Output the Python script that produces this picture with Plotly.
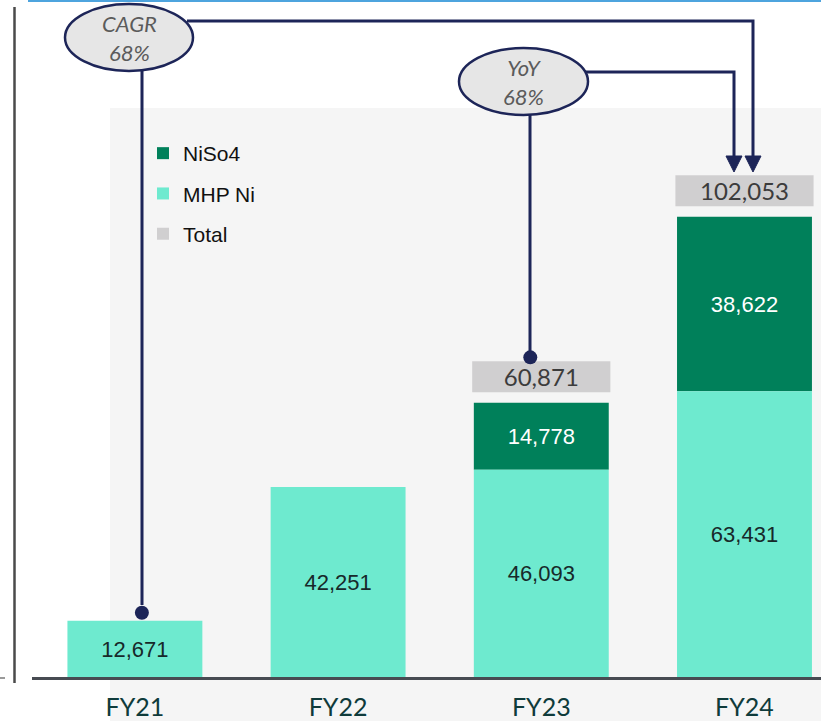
import plotly.graph_objects as go

# ---------------- data ----------------
categories = ["FY21", "FY22", "FY23", "FY24"]
mhp_ni = [12671, 42251, 46093, 63431]
niso4 = [0, 0, 14778, 38622]
totals = [12671, 42251, 60871, 102053]
cagr_text = "CAGR<br>68%"
yoy_text = "YoY<br>68%"

# ---------------- geometry helpers ----------------
W, H = 821, 721
L, T, B = 15, 0, 43
PW, PH = W - L, H - T - B
YMAX = 150000
XSTEP = 203.2
XMIN = -0.59
XMAX = XMIN + PW / XSTEP
xs = list(range(len(categories)))


def px_to_units(p):
    return p / PH * YMAX


def pxx(px):
    return (px - L) / PW


def pxy(py):
    return (T + PH - py) / PH


NAVY = "#1d2558"
TEAL_DARK = "#00805a"
TEAL_LIGHT = "#6eeacf"
GREY_BOX = "#d0cfd0"

box_gap = px_to_units(10.5)
box_h = px_to_units(31)
show_total = [n > 0 for n in niso4]

fig = go.Figure()

fig.add_trace(go.Bar(
    name="NiSo4", x=xs,
    y=[v if v > 0 else None for v in niso4],
    base=mhp_ni,
    width=0.664,
    marker=dict(color=TEAL_DARK, line=dict(width=0)),
    text=[f"{v:,}" if v > 0 else "" for v in niso4],
    textposition="inside", insidetextanchor="middle", constraintext="none",
    textfont=dict(family="Liberation Sans, Arial", size=22, color="white"),
    hoverinfo="skip", legendgroup="a",
))
fig.add_trace(go.Bar(
    name="MHP Ni", x=xs, y=mhp_ni,
    width=0.664,
    marker=dict(color=TEAL_LIGHT, line=dict(width=0)),
    text=[f"{v:,}" for v in mhp_ni],
    textposition="inside", insidetextanchor="middle", constraintext="none",
    textfont=dict(family="Liberation Sans, Arial", size=22, color="#17292a"),
    hoverinfo="skip", legendgroup="b",
))
fig.add_trace(go.Bar(
    name="Total", x=xs,
    y=[box_h if s else None for s in show_total],
    base=[t + box_gap for t in totals],
    width=0.68,
    marker=dict(color=GREY_BOX, line=dict(width=0)),
    text=[f"{t:,}" if s else "" for t, s in zip(totals, show_total)],
    textposition="inside", insidetextanchor="middle", constraintext="none",
    textfont=dict(family="Lato", size=24, color="#3c3c3c"),
    hoverinfo="skip", legendgroup="c",
))

# dots at ends of the connectors (tied to the data)
dot_x = [0 + 7 / XSTEP, 2 - 11 / XSTEP]
dot_y = [totals[0] + px_to_units(8), totals[2] + box_gap + box_h + px_to_units(4)]
fig.add_trace(go.Scatter(
    x=dot_x, y=dot_y, mode="markers",
    marker=dict(size=14, color=NAVY), showlegend=False, hoverinfo="skip",
    cliponaxis=False,
))

shapes = []
# light grey background panel
shapes.append(dict(type="rect", xref="paper", yref="paper",
                   x0=pxx(110), x1=pxx(830), y0=pxy(108), y1=pxy(725),
                   fillcolor="#f5f5f5", line=dict(width=0), layer="below"))
# top blue rule
shapes.append(dict(type="line", xref="paper", yref="paper",
                   x0=pxx(28), x1=pxx(821), y0=pxy(1), y1=pxy(1),
                   line=dict(color="#4ea4de", width=2)))
# left vertical rule
shapes.append(dict(type="line", xref="paper", yref="paper",
                   x0=pxx(14.5), x1=pxx(14.5), y0=pxy(7), y1=pxy(683),
                   line=dict(color="#4a4a4a", width=2.5)))
shapes.append(dict(type="line", xref="paper", yref="paper",
                   x0=pxx(0), x1=pxx(5), y0=pxy(678), y1=pxy(678),
                   line=dict(color="#9a9a9a", width=2)))
# baseline
shapes.append(dict(type="line", xref="paper", yref="paper",
                   x0=pxx(32), x1=pxx(821), y0=pxy(678.5), y1=pxy(678.5),
                   line=dict(color="#474b52", width=3)))

# connectors
def path(points):
    return "M " + " L ".join(f"{pxx(a):.5f},{pxy(b):.5f}" for a, b in points)

shapes.append(dict(type="path", xref="paper", yref="paper",
                   path=path([(142, 70), (142, 605)]),
                   line=dict(color=NAVY, width=3)))
shapes.append(dict(type="path", xref="paper", yref="paper",
                   path=path([(187, 21), (753, 21), (753, 158)]),
                   line=dict(color=NAVY, width=3)))
shapes.append(dict(type="path", xref="paper", yref="paper",
                   path=path([(530, 114), (530, 352)]),
                   line=dict(color=NAVY, width=3)))
shapes.append(dict(type="path", xref="paper", yref="paper",
                   path=path([(584, 72), (734, 72), (734, 158)]),
                   line=dict(color=NAVY, width=3)))
# arrow heads
for ax in (734, 753):
    shapes.append(dict(type="path", xref="paper", yref="paper",
                       path=path([(ax - 8, 156), (ax + 8, 156), (ax, 172)]) + " Z",
                       fillcolor=NAVY, line=dict(color=NAVY, width=1)))
# ellipses
for (x0, x1, y0, y1) in [(65, 193, 4, 71), (459, 588, 48, 115)]:
    shapes.append(dict(type="circle", xref="paper", yref="paper",
                       x0=pxx(x0), x1=pxx(x1), y0=pxy(y1), y1=pxy(y0),
                       fillcolor="#e6e6e6", line=dict(color=NAVY, width=2.5)))

annotations = []
for txt, cx, cy in [(cagr_text, 129, 38), (yoy_text, 523.5, 82)]:
    annotations.append(dict(xref="paper", yref="paper", x=pxx(cx), y=pxy(cy),
                            text=txt, showarrow=False, xanchor="center", yanchor="middle",
                            font=dict(family="Lato", size=22, color="#5b5b5b", style="italic")))

fig.update_layout(
    width=W, height=H,
    margin=dict(l=L, r=0, t=T, b=B, pad=0),
    paper_bgcolor="white", plot_bgcolor="rgba(0,0,0,0)",
    barmode="overlay",
    shapes=shapes, annotations=annotations,
    showlegend=True,
    legend=dict(x=pxx(143), y=pxy(133), xanchor="left", yanchor="top",
                orientation="v", traceorder="grouped", tracegroupgap=10,
                bgcolor="rgba(0,0,0,0)",
                font=dict(family="Liberation Sans, Arial", size=21, color="#111111")),
    xaxis=dict(range=[XMIN, XMAX], tickmode="array", tickvals=xs, ticktext=categories,
               showgrid=False, zeroline=False, showline=False, ticks="",
               ticklabelstandoff=12,
               tickfont=dict(family="Lato", size=25, color="#0f3b3b"), fixedrange=True),
    yaxis=dict(range=[0, YMAX], showgrid=False, zeroline=False, showline=False,
               showticklabels=False, ticks="", fixedrange=True),
)

fig.write_html(
    "out.html",
    config={"displayModeBar": False, "staticPlot": True},
    post_script="document.body.style.margin='0';document.body.style.overflow='hidden';",
)
